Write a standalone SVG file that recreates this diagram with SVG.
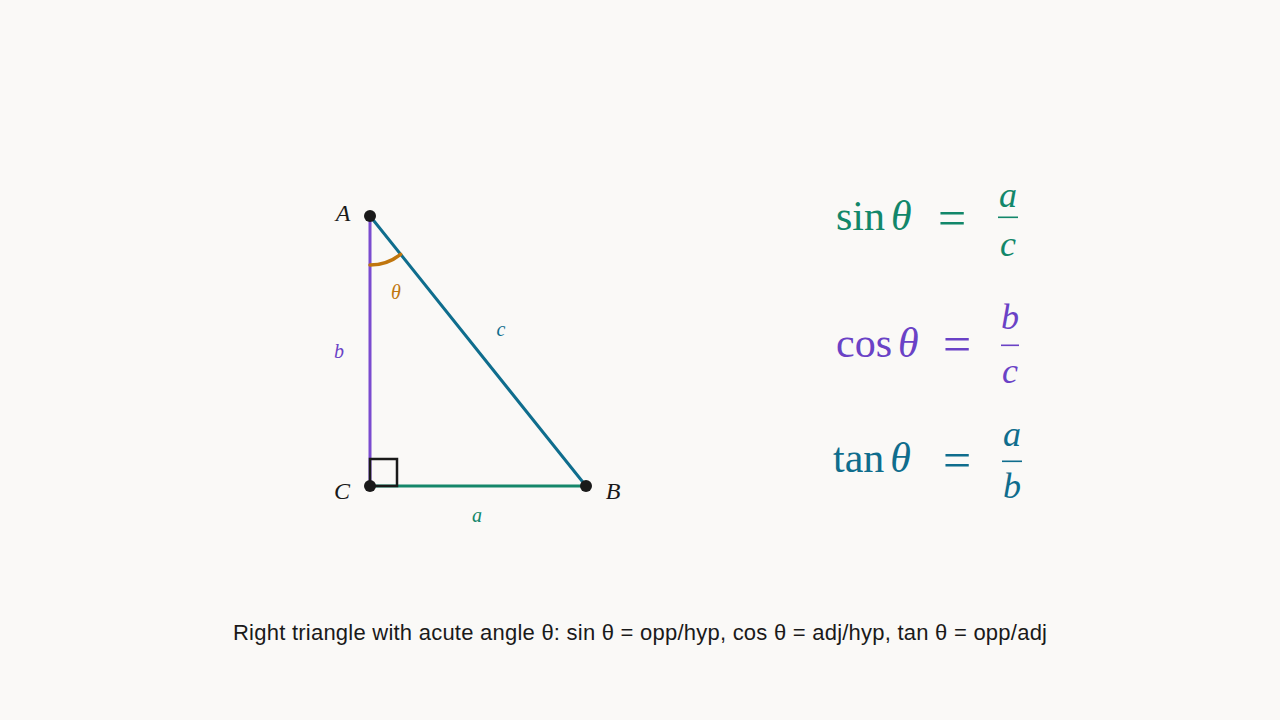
<svg xmlns="http://www.w3.org/2000/svg" width="1280" height="720" viewBox="0 0 1280 720">
<style>
.m{font-family:"Liberation Serif","DejaVu Serif",serif;}
.i{font-style:italic;}
.lbl{font-family:"Liberation Serif","DejaVu Serif",serif;font-style:italic;font-size:24px;text-anchor:middle;}
.eq{font-family:"Liberation Serif","DejaVu Serif",serif;font-size:42px;}
.eqs{font-family:"Liberation Serif","DejaVu Serif",serif;font-size:50px;text-anchor:middle;}
.fr{font-family:"Liberation Serif","DejaVu Serif",serif;font-style:italic;font-size:36px;text-anchor:middle;}
.green{fill:#12876a;}
.purple{fill:#6a42c6;}
.teal{fill:#0f6d8d;}
.dot{fill:#1a1a1a;}
</style>
<rect width="1280" height="720" fill="#faf9f7"/>
<g id="connectors" fill="none" stroke-width="3" stroke-linecap="round">
<line id="side-b" x1="370" y1="216" x2="370" y2="486" stroke="#7a4ccf"/>
<line id="side-a" x1="370" y1="486" x2="586" y2="486" stroke="#15876a"/>
<line id="side-c" x1="370" y1="216" x2="586" y2="486" stroke="#0f6d8d"/>
<rect id="right-angle" x="370" y="459" width="27" height="27" stroke="#1a1a1a" stroke-width="2.5" stroke-linecap="butt"/>
<path id="angle-arc" d="M370,265 A49,49 0 0 0 400.6,254.3" stroke="#c0760e" stroke-width="3.5"/>
</g>
<g id="node-A"><circle cx="370" cy="216" r="6" class="dot"/><text x="343" y="221" class="lbl" fill="#1a1a1a">A</text></g>
<g id="node-C"><circle cx="370" cy="486" r="6" class="dot"/><text x="342" y="499" class="lbl" fill="#1a1a1a">C</text></g>
<g id="node-B"><circle cx="586" cy="486" r="6" class="dot"/><text x="613" y="499" class="lbl" fill="#1a1a1a">B</text></g>
<g id="labels">
<text x="396" y="299" class="lbl" fill="#c0760e" style="font-size:20px">θ</text>
<text x="339" y="358" class="lbl purple" style="font-size:20px">b</text>
<text x="501" y="336" class="lbl teal" style="font-size:20px">c</text>
<text x="477" y="522" class="lbl green" style="font-size:20px">a</text>
</g>
<g id="eq-sin" class="green">
<text x="836" y="230" class="eq">sin<tspan class="i" dx="6">θ</tspan></text>
<text x="952" y="235" class="eqs">=</text>
<text x="1008" y="207" class="fr">a</text>
<rect x="998" y="216.5" width="20" height="1.6"/>
<text x="1008" y="256" class="fr">c</text>
</g>
<g id="eq-cos" class="purple">
<text x="836" y="357" class="eq">cos<tspan class="i" dx="6">θ</tspan></text>
<text x="957" y="361" class="eqs">=</text>
<text x="1010" y="329" class="fr">b</text>
<rect x="1001" y="344.5" width="18" height="1.6"/>
<text x="1010" y="383" class="fr">c</text>
</g>
<g id="eq-tan" class="teal">
<text x="833" y="472" class="eq">tan<tspan class="i" dx="6">θ</tspan></text>
<text x="957" y="477" class="eqs">=</text>
<text x="1012" y="446" class="fr">a</text>
<rect x="1002" y="460.5" width="20" height="1.6"/>
<text x="1012" y="498" class="fr">b</text>
</g>
<g id="caption">
<text x="640" y="640" font-family="Liberation Sans, Arial, sans-serif" font-size="22" fill="#1a1a1a" text-anchor="middle" textLength="814" lengthAdjust="spacing">Right triangle with acute angle θ: sin θ = opp/hyp, cos θ = adj/hyp, tan θ = opp/adj</text>
</g>
</svg>
